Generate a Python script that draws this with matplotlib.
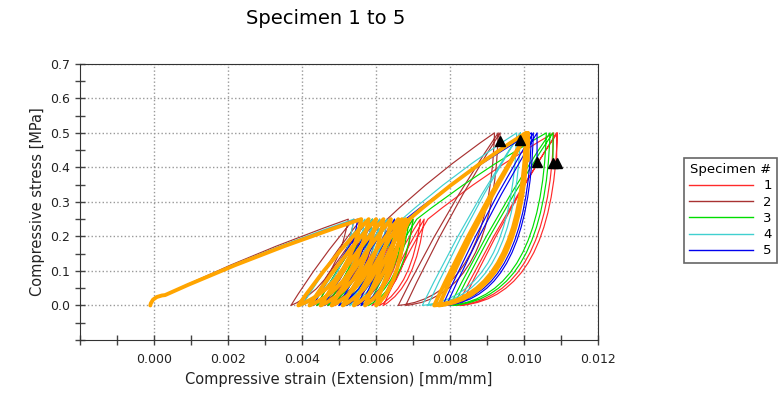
import matplotlib
matplotlib.use("Agg")
import matplotlib.pyplot as plt
from matplotlib.path import Path
from matplotlib.patches import PathPatch
from matplotlib.lines import Line2D

# turning points of each test (strain [mm/mm], stress [MPa])
spec1_strain = [-0.0001, 0.0003, 0.0056, 0.0045, 0.0060, 0.0049, 0.0063, 0.0052, 0.0066, 0.0055, 0.0068,
                0.0057, 0.0070, 0.0059, 0.0072, 0.0061, 0.0073, 0.0062, 0.0074, 0.0108, 0.0082, 0.0109,
                0.0083, 0.01088, 0.01088]
spec2_strain = [-0.0001, 0.0003, 0.00525, 0.0037, 0.0054, 0.0040, 0.0056, 0.0042, 0.0058, 0.0044, 0.0059,
                0.0045, 0.0060, 0.0046, 0.0061, 0.0047, 0.0062, 0.0048, 0.0063, 0.0092, 0.0066, 0.0093,
                0.0068, 0.00935, 0.00935]
spec3_strain = [-0.0001, 0.0003, 0.0056, 0.0044, 0.0059, 0.0047, 0.0062, 0.0050, 0.0064, 0.0052, 0.0066,
                0.0054, 0.0068, 0.0056, 0.0069, 0.0057, 0.0070, 0.0058, 0.0071, 0.0106, 0.0080, 0.0107,
                0.0081, 0.01078, 0.01078]
spec4_strain = [-0.0001, 0.0003, 0.0054, 0.0040, 0.0057, 0.0043, 0.0059, 0.0046, 0.0061, 0.0048, 0.0063,
                0.0050, 0.0064, 0.0052, 0.0065, 0.0053, 0.0066, 0.0054, 0.0067, 0.0098, 0.00725, 0.0099,
                0.0074, 0.0099, 0.0099]
spec5_strain = [-0.0001, 0.0003, 0.0055, 0.0043, 0.0058, 0.0046, 0.0060, 0.0048, 0.0062, 0.0050, 0.0064,
                0.0052, 0.0065, 0.0054, 0.0066, 0.0055, 0.0067, 0.0056, 0.0068, 0.0102, 0.0078, 0.01025,
                0.0079, 0.01035, 0.01035]
sel_strain = [-0.0001, 0.0003, 0.0056, 0.0039, 0.0058, 0.0042, 0.0060, 0.0045, 0.0062, 0.0048, 0.0064,
              0.0051, 0.0066, 0.0054, 0.0067, 0.0057, 0.0068, 0.0060, 0.0069, 0.01005, 0.00757, 0.0101,
              0.0077, 0.0101, 0.0101]

# stress sequence: toe, 8 cycles at 0.25 MPa, 2 cycles at 0.5 MPa, end point
cycle_stress = [0.0, 0.03, 0.25, 0.0, 0.25, 0.0, 0.25, 0.0, 0.25, 0.0, 0.25,
                0.0, 0.25, 0.0, 0.25, 0.0, 0.25, 0.0, 0.25, 0.5, 0.0, 0.5,
                0.0, 0.5]
end_stress = [0.413, 0.475, 0.413, 0.48, 0.417, 0.42]

# end markers
tri_strain = [0.00935, 0.0099, 0.01035, 0.01078, 0.01088]
tri_stress = [0.475, 0.48, 0.417, 0.413, 0.413]

labels = ['1', '2', '3', '4', '5']
colors = ['#ff2a2a', '#a83232', '#00dd00', '#40d0d0', '#0000ee']
strains = [spec1_strain, spec2_strain, spec3_strain, spec4_strain, spec5_strain, sel_strain]


def curve_path(xs, ys):
    verts = [(xs[0], ys[0])]
    codes = [Path.MOVETO]
    for i in range(1, len(xs)):
        x0, y0, x1, y1 = xs[i - 1], ys[i - 1], xs[i], ys[i]
        dx, dy = x1 - x0, y1 - y0
        if dy < 0 and -dy > 0.3:
            # big unloading: drops steeply first, flattens near the bottom
            ctrl = (x0 + 0.05 * dx, y1 - 0.05 * dy)
        elif dy < 0:
            ctrl = (x0 + 0.2 * dx, y0 + 0.78 * dy)
        elif i == 1:
            ctrl = (x0 + 0.1 * dx, y0 + 0.9 * dy)
        else:
            ctrl = (x0 + 0.46 * dx, y0 + 0.54 * dy)
        verts += [ctrl, (x1, y1)]
        codes += [Path.CURVE3, Path.CURVE3]
    return Path(verts, codes)


fig = plt.figure(figsize=(7.78, 3.99), dpi=100)
ax = fig.add_axes([0.1028, 0.148, 0.666, 0.692])

for i, xs in enumerate(strains):
    ys = cycle_stress + [end_stress[i]]
    if i < 5:
        patch = PathPatch(curve_path(xs, ys), fill=False, edgecolor=colors[i], lw=0.85, zorder=3,
                          joinstyle='round', capstyle='round')
    else:
        patch = PathPatch(curve_path(xs, ys), fill=False, edgecolor='#ffa500', lw=2.8, zorder=4,
                          joinstyle='round', capstyle='round')
    ax.add_patch(patch)

ax.plot(tri_strain, tri_stress, '^', color='black', markersize=7, zorder=5)

ax.set_xlim(-0.002, 0.012)
ax.set_ylim(-0.1, 0.7)
ax.set_xticks([0.0, 0.002, 0.004, 0.006, 0.008, 0.010, 0.012])
ax.set_xticks([-0.002 + 0.001 * k for k in range(15)], minor=True)
ax.set_yticks([0.0, 0.1, 0.2, 0.3, 0.4, 0.5, 0.6, 0.7])
ax.set_yticks([-0.1 + 0.05 * k for k in range(17)], minor=True)
ax.set_xticklabels(['%.3f' % v for v in ax.get_xticks()])
ax.set_yticklabels(['%.1f' % v for v in ax.get_yticks()])
ax.tick_params(which='both', direction='inout', length=7, width=1, colors='#444444',
               labelcolor='#222222', labelsize=9)
ax.tick_params(axis='x', pad=6)
ax.grid(True, which='major', linestyle=':', color='#999999', linewidth=1)
for s in ax.spines.values():
    s.set_color('#333333')

ax.set_xlabel('Compressive strain (Extension) [mm/mm]', fontsize=10.5, color='#222222')
ax.set_ylabel('Compressive stress [MPa]', fontsize=10.5, color='#222222')
fig.text(0.418, 0.953, 'Specimen 1 to 5', fontsize=14, ha='center', va='center')

handles = [Line2D([0], [0], color=c, lw=1) for c in colors]
leg = ax.legend(handles, labels, title='Specimen #', loc='center left', bbox_to_anchor=(1.153, 0.47),
                fontsize=9.5, title_fontsize=9.5, handlelength=4.8, markerfirst=True, fancybox=False,
                edgecolor='#666666', framealpha=1, labelspacing=0.25, borderpad=0.4)
leg.get_frame().set_linewidth(1.2)

fig.savefig('out.png', dpi=100)
